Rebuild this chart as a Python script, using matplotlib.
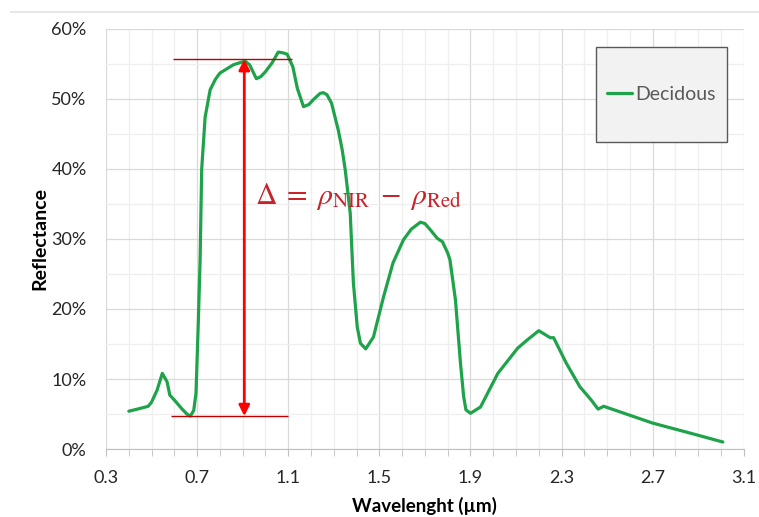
import matplotlib
matplotlib.use("Agg")
import matplotlib.pyplot as plt
from matplotlib.lines import Line2D
from matplotlib.patches import Rectangle
from matplotlib.ticker import MultipleLocator, PercentFormatter

# reflectance curve of deciduous vegetation
wavelength = [0.40, 0.45, 0.485, 0.50, 0.524, 0.547, 0.568, 0.58, 0.60, 0.634,
              0.655, 0.67, 0.685, 0.695, 0.705, 0.713, 0.72, 0.735, 0.757, 0.78,
              0.80, 0.83, 0.86, 0.91, 0.93, 0.96, 0.98, 1.00, 1.03, 1.056,
              1.075, 1.095, 1.12, 1.14, 1.167, 1.19, 1.21, 1.24, 1.254, 1.27,
              1.29, 1.32, 1.337, 1.35, 1.372, 1.386, 1.403, 1.417, 1.44, 1.474,
              1.518, 1.56, 1.606, 1.64, 1.68, 1.70, 1.724, 1.754, 1.777, 1.80,
              1.81, 1.834, 1.856, 1.87, 1.88, 1.90, 1.944, 2.02, 2.107, 2.15,
              2.20, 2.23, 2.25, 2.265, 2.32, 2.38, 2.43, 2.46, 2.485, 2.53,
              2.70, 2.85, 3.008]
reflectance = [5.4, 5.8, 6.1, 6.7, 8.4, 10.8, 9.6, 7.7, 7.0, 5.7,
               5.0, 4.7, 5.5, 8.0, 18.0, 27.0, 40.0, 47.4, 51.3, 52.8,
               53.7, 54.3, 54.9, 55.4, 54.9, 52.9, 53.2, 53.9, 55.2, 56.7,
               56.6, 56.4, 54.6, 51.5, 48.9, 49.2, 49.9, 50.8, 50.9, 50.6,
               49.4, 45.5, 42.7, 39.9, 33.7, 23.7, 17.4, 15.1, 14.3, 16.0,
               21.7, 26.6, 29.9, 31.4, 32.4, 32.2, 31.3, 30.1, 29.6, 28.0,
               27.0, 21.3, 12.3, 7.5, 5.6, 5.1, 6.0, 10.8, 14.4, 15.6,
               16.9, 16.3, 15.9, 15.9, 12.3, 8.9, 7.0, 5.7, 6.1, 5.6,
               3.7, 2.4, 1.0]

# delta annotation
nir_level = 55.7
red_level = 4.7
arrow_x = 0.907
nir_span = (0.595, 1.115)
red_span = (0.585, 1.10)

x_ticks = [0.3, 0.7, 1.1, 1.5, 1.9, 2.3, 2.7, 3.1]

green = '#1fa34a'
dark_red = '#c00000'

plt.rcParams['font.family'] = ['Lato', 'DejaVu Sans']
plt.rcParams['mathtext.fontset'] = 'stix'

fig = plt.figure(figsize=(7.59, 5.17), dpi=100)
ax = fig.add_axes([0.1397, 0.1315, 0.8403, 0.8125])

ax.plot(wavelength, reflectance, color=green, lw=2.3, label='Decidous',
        solid_capstyle='round', solid_joinstyle='round', zorder=3)

ax.set_xlim(0.3, 3.1)
ax.set_ylim(0, 60)
ax.set_xticks(x_ticks)
ax.set_xticklabels([f'{v:.1f}' for v in x_ticks])
ax.xaxis.set_minor_locator(MultipleLocator(0.1))
ax.yaxis.set_major_locator(MultipleLocator(10))
ax.yaxis.set_minor_locator(MultipleLocator(5))
ax.yaxis.set_major_formatter(PercentFormatter(decimals=0))

ax.grid(which='major', color='#d9d9d9', lw=0.9)
ax.grid(which='minor', color='#efefef', lw=0.9)
ax.set_axisbelow(True)

for side in ['top', 'right', 'left']:
    ax.spines[side].set_visible(False)
ax.spines['bottom'].set_color('#bfbfbf')
ax.tick_params(axis='y', which='both', length=0, pad=14, labelsize=13,
               labelcolor='#262626')
ax.tick_params(axis='x', which='both', length=5, color='#bfbfbf', pad=10,
               labelsize=13, labelcolor='#262626')

ax.set_xlabel('Wavelenght (µm)', fontsize=13.5, fontweight='bold', labelpad=8)
ax.set_ylabel('Reflectance', fontsize=14, fontweight='bold', labelpad=2)

# NIR / Red levels and the difference arrow
ax.hlines(nir_level, *nir_span, color=dark_red, lw=1.0, zorder=4)
ax.hlines(red_level, *red_span, color=dark_red, lw=1.0, zorder=4)
ax.annotate('', xy=(arrow_x, red_level), xytext=(arrow_x, nir_level),
            arrowprops=dict(arrowstyle='<|-|>', color='red', lw=2,
                            mutation_scale=16, shrinkA=0, shrinkB=0),
            zorder=5)
ax.text(0.955, 36,
        r'$\Delta\;=\;\rho_{\mathrm{NIR}}\;-\;\rho_{\mathrm{Red}}$',
        color='#c8232b', fontsize=21.5, va='center', ha='left', zorder=5)

# legend box
ax.add_patch(Rectangle((0.768, 0.731), 0.205, 0.226, transform=ax.transAxes,
                       facecolor='#f2f2f2', edgecolor='#595959', lw=1.0,
                       zorder=6, clip_on=False))
leg = ax.legend(loc='center', bbox_to_anchor=(0.8705, 0.844), frameon=False,
                handlelength=1.3, handletextpad=0.15, fontsize=14)
leg.set_zorder(7)
for t in leg.get_texts():
    t.set_color('#595959')

fig.add_artist(Line2D([0.014, 1.0], [0.977, 0.977], color='#e3e3e3', lw=1.2))

fig.savefig('out.png', dpi=100)
